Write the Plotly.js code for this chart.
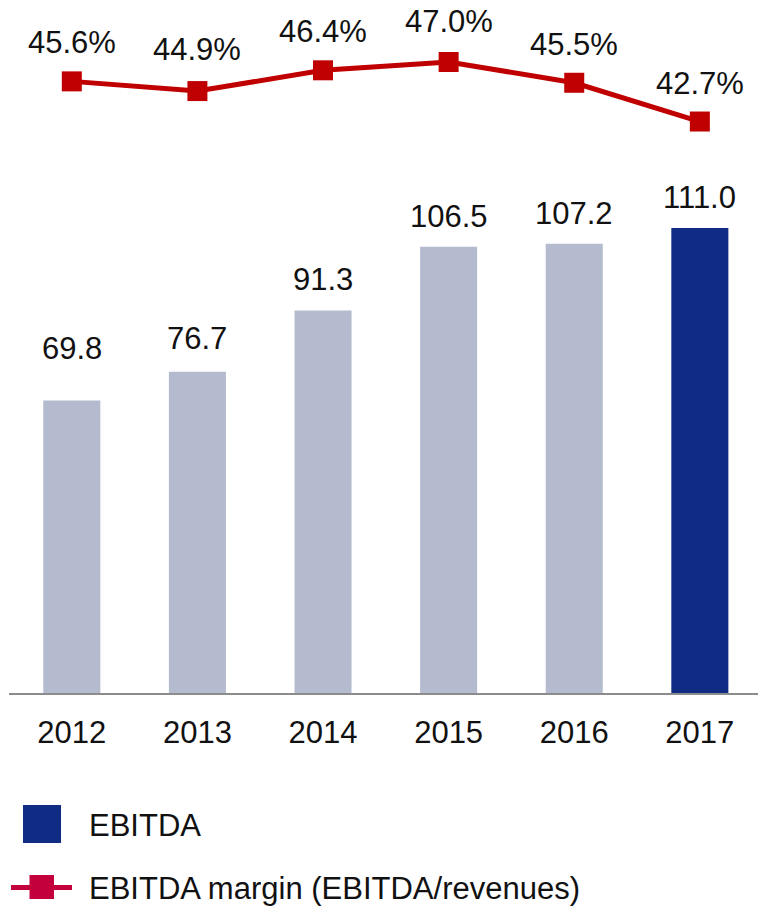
<!DOCTYPE html>
<html>
<head>
<meta charset="utf-8">
<script src="https://cdn.plot.ly/plotly-3.0.1.min.js"></script>
<style>html,body{margin:0;padding:0;background:#fff;}#chart{width:758px;height:906px;}</style>
</head>
<body>
<div id="chart"></div>
<script>
// ---- data ----
var years = ["2012", "2013", "2014", "2015", "2016", "2017"];
var ebitda = [69.8, 76.7, 91.3, 106.5, 107.2, 111.0];
var ebitdaLabels = ["69.8", "76.7", "91.3", "106.5", "107.2", "111.0"];
var margin = [45.6, 44.9, 46.4, 47.0, 45.5, 42.7];
var marginLabels = ["45.6%", "44.9%", "46.4%", "47.0%", "45.5%", "42.7%"];
var legendNames = ["EBITDA", "EBITDA margin (EBITDA/revenues)"];

// ---- styles ----
var FONT = "Liberation Sans, Arial, sans-serif";
var FS = 31;
var GREY_BAR = "#b4bbce";
var BLUE_BAR = "#0f2b84";
var RED = "#c00000";
var LEG_RED = "#c3003c";
var barColors = ebitda.map(function (v, i) { return i === ebitda.length - 1 ? BLUE_BAR : GREY_BAR; });
// extra pixel lift of individual labels (as placed in the original)
var barLabelLift = [22, 3, 0, 0, 0, 0];
var marginLabelLift = [0, 3, 0, 2, 0, 0];

var W = 758, H = 906, ML = 9, MR = 0, MT = 0, MB = 213;
var PW = W - ML - MR, PH = H - MT - MB;
function px(x) { return (x - ML) / PW; }
function py(y) { return (H - MB - y) / PH; }

var traces = [
  {
    type: "bar", x: years, y: ebitda, yaxis: "y",
    marker: { color: barColors, line: { width: 0 } },
    width: 0.454, showlegend: false, hoverinfo: "skip"
  },
  {
    type: "scatter", mode: "lines+markers", x: years, y: margin, yaxis: "y2",
    line: { color: RED, width: 5 },
    marker: { symbol: "square", size: 20, color: RED },
    showlegend: false, hoverinfo: "skip", cliponaxis: false
  }
];

var annotations = [];
years.forEach(function (yr, i) {
  annotations.push({
    x: i, y: ebitda[i], xref: "x", yref: "y", text: ebitdaLabels[i],
    showarrow: false, yanchor: "bottom", xanchor: "center", yshift: 11 + barLabelLift[i],
    font: { family: FONT, size: FS, color: "#111" }
  });
  annotations.push({
    x: i, y: margin[i], xref: "x", yref: "y2", text: marginLabels[i],
    showarrow: false, yanchor: "bottom", xanchor: "center", yshift: 19 + marginLabelLift[i],
    font: { family: FONT, size: FS, color: "#111" }
  });
});
// legend texts
annotations.push({
  xref: "paper", yref: "paper", x: px(87), y: py(826), text: legendNames[0],
  showarrow: false, xanchor: "left", yanchor: "middle",
  font: { family: FONT, size: FS, color: "#111" }
});
annotations.push({
  xref: "paper", yref: "paper", x: px(87), y: py(888), text: legendNames[1],
  showarrow: false, xanchor: "left", yanchor: "middle",
  font: { family: FONT, size: FS, color: "#111" }
});

var shapes = [
  { type: "rect", xref: "paper", yref: "paper", x0: px(23), x1: px(61), y0: py(843), y1: py(805),
    fillcolor: BLUE_BAR, line: { width: 0 } },
  { type: "line", xref: "paper", yref: "paper", x0: px(11), x1: px(72), y0: py(887.5), y1: py(887.5),
    line: { color: LEG_RED, width: 5 } },
  { type: "rect", xref: "paper", yref: "paper", x0: px(29.5), x1: px(54), y0: py(899), y1: py(875),
    fillcolor: LEG_RED, line: { width: 0 } }
];

var hiddenY = { showgrid: false, zeroline: false, showline: false, showticklabels: false, ticks: "" };
var layout = {
  width: W, height: H,
  margin: { l: ML, r: MR, t: MT, b: MB, pad: 0 },
  paper_bgcolor: "#fff", plot_bgcolor: "#fff",
  showlegend: false,
  font: { family: FONT, size: FS, color: "#111" },
  xaxis: {
    type: "category", range: [-0.5, 5.463], fixedrange: true,
    showline: true, linecolor: "#8c8c8c", linewidth: 2,
    ticks: "", showgrid: false, zeroline: false,
    tickfont: { family: FONT, size: FS, color: "#111" },
    ticklabelstandoff: 11
  },
  yaxis: Object.assign({ range: [0, 165.4] }, hiddenY),
  yaxis2: Object.assign({ range: [1.41, 51.48], overlaying: "y" }, hiddenY),
  annotations: annotations,
  shapes: shapes
};

Plotly.newPlot("chart", traces, layout, { staticPlot: true, displayModeBar: false });
</script>
</body>
</html>
